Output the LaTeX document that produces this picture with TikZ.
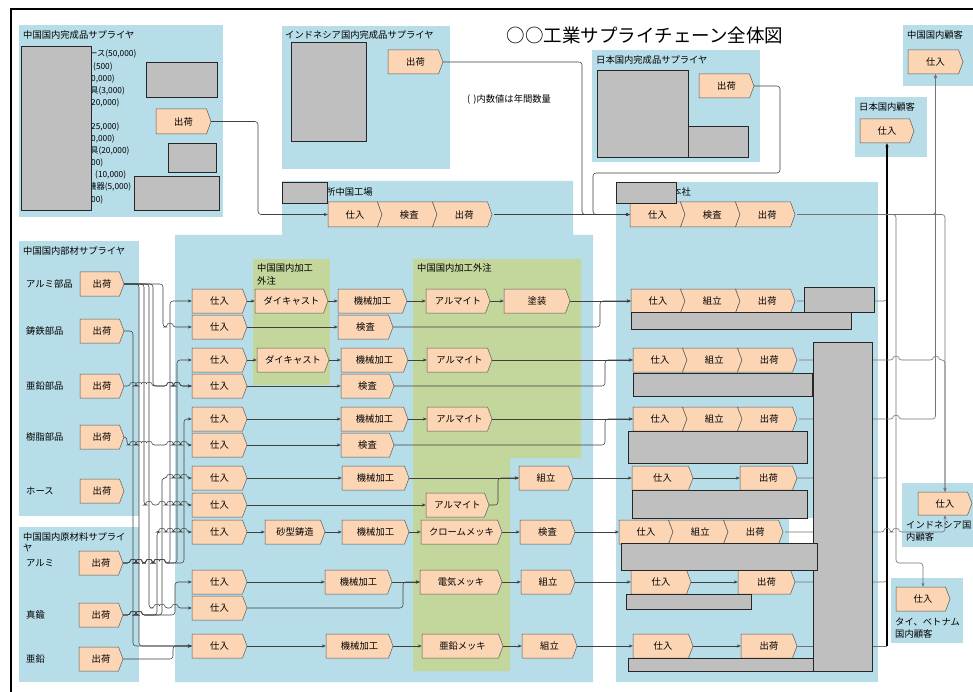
\documentclass[tikz,border=0pt]{standalone}
\usepackage{fontspec}
\setmainfont{Noto Sans CJK JP}
\usetikzlibrary{arrows.meta}
\definecolor{bluebg}{HTML}{B7DDE8}
\definecolor{greenbg}{HTML}{C3D69B}
\definecolor{peach}{HTML}{FCD5B4}
\definecolor{grayrect}{HTML}{BFBFBF}
\pgfdeclarelayer{bg}\pgfdeclarelayer{fg}\pgfsetlayers{bg,main,fg}
\tikzset{
 boxfill/.style={fill=peach,draw=black!65,line width=0.5pt},
 boxtext/.style={inner sep=0pt,font=\fontsize{9.3}{11}\selectfont},
 lbl/.style={anchor=west,inner sep=0pt,font=\fontsize{9.3}{11}\selectfont},
 smalllbl/.style={anchor=west,inner sep=0pt,font=\fontsize{8.3}{10}\selectfont},
 graybox/.style={fill=grayrect,draw=black!85,line width=0.6pt},
 conn/.style={draw=black!75,line width=0.55pt,rounded corners=3pt},
 lconn/.style={draw=black!55,line width=0.6pt,rounded corners=3pt},
 arr/.style={-{Stealth[length=4pt,width=3.2pt]}},
 trunk/.style={draw=black,line width=1.1pt},
}
\newcommand\pentbox[6]{%
 \path[boxfill] (#2,#3) -- ({#4-4.5},#3) -- (#4,{(#3+#5)/2}) -- ({#4-4.5},#5) -- (#2,#5) -- cycle;
 \node[boxtext,minimum width={#4pt-#2pt},minimum height={#5pt-#3pt}] (#1) at ({(#2+#4)/2},{(#3+#5)/2}) {#6};}
\newcommand\chevbox[6]{%
 \path[boxfill] (#2,#3) -- ({#4-4.5},#3) -- (#4,{(#3+#5)/2}) -- ({#4-4.5},#5) -- (#2,#5) -- ({#2+4.5},{(#3+#5)/2}) -- cycle;
 \node[boxtext,minimum width={#4pt-#2pt},minimum height={#5pt-#3pt}] (#1) at ({(#2+#4)/2+2},{(#3+#5)/2}) {#6};}
\begin{document}
\begin{tikzpicture}[x=1pt,y=-1pt]
\useasboundingbox (0,0) rectangle (973,692);
\begin{pgfonlayer}{bg}
\fill[white] (0,0) rectangle (973,692);
\fill[bluebg] (19,25) rectangle (223,217);
\fill[bluebg] (282,26) rectangle (450,169);
\fill[bluebg] (592,50) rectangle (760,162);
\fill[bluebg] (903,25) rectangle (973,86);
\fill[bluebg] (855,97) rectangle (927,157);
\fill[bluebg] (19,241) rectangle (139,516);
\fill[bluebg] (19,527) rectangle (139,682);
\fill[bluebg] (282,181) -- (573,181) -- (573,235) -- (593,235) -- (593,682) -- (175,682) -- (175,235) -- (282,235) -- cycle;
\fill[bluebg] (616,182) rectangle (878,682);
\fill[bluebg] (902,483) rectangle (973,547);
\fill[bluebg] (891,578) rectangle (963,643);
\fill[greenbg] (253,259) rectangle (330,385);
\fill[greenbg] (413,259) -- (581,259) -- (581,458) -- (510,458) -- (510,671) -- (413,671) -- cycle;
\fill[white] (789,518) rectangle (813,543);
\draw[line width=2pt] (11,692) -- (11,9) -- (973,9);
\end{pgfonlayer}

% titles and labels
\node[inner sep=0pt,font=\fontsize{18.5}{22}\selectfont] (title) at (645,35) {○○工業サプライチェーン全体図};
\node[lbl] (tCS) at (23,35) {中国国内完成品サプライヤ};
\node[lbl] (tIS) at (285,35) {インドネシア国内完成品サプライヤ};
\node[lbl] (tJS) at (596,60) {日本国内完成品サプライヤ};
\node[lbl] (tCC) at (907,35) {中国国内顧客};
\node[lbl] (tJC) at (859,107) {日本国内顧客};
\node[lbl] (tNote) at (467,99) {(\,\,)内数値は年間数量};
\node[lbl] (tFac) at (326,192) {所中国工場};
\node[lbl] (tHQ) at (672,192) {本社};
\node[lbl] (tPS) at (23,251) {中国国内部材サプライヤ};
\node[lbl] (tRS1) at (23,537) {中国国内原材料サプライ};
\node[lbl] (tRS2) at (23,548) {ヤ};
\node[lbl] (tG1a) at (257,268) {中国国内加工};
\node[lbl] (tG1b) at (257,281) {外注};
\node[lbl] (tG2) at (417,268) {中国国内加工外注};
\node[lbl] (tIC1) at (906,525) {インドネシア国};
\node[lbl] (tIC2) at (906,537) {内顧客};
\node[lbl] (tTC1) at (895,622) {タイ、ベトナム};
\node[lbl] (tTC2) at (895,634) {国内顧客};
\node[lbl] (lAP) at (26,284) {アルミ部品};
\node[lbl] (lCI) at (26,331) {鋳鉄部品};
\node[lbl] (lZP) at (26,386) {亜鉛部品};
\node[lbl] (lRP) at (26,437) {樹脂部品};
\node[lbl] (lHO) at (26,491) {ホース};
\node[lbl] (lAL) at (26,563) {アルミ};
\node[lbl] (lBR) at (26,615) {真鍮};
\node[lbl] (lZN) at (26,659) {亜鉛};
% partly hidden list
\node[smalllbl] (q1) at (89,54) {ース(50,000)};
\node[smalllbl] (q2) at (93,67) {(500)};
\node[smalllbl] (q3) at (91,79) {0,000)};
\node[smalllbl] (q4) at (90,91) {具(3,000)};
\node[smalllbl] (q5) at (91,103) {20,000)};
\node[smalllbl] (q6) at (91,127) {25,000)};
\node[smalllbl] (q7) at (91,139) {0,000)};
\node[smalllbl] (q8) at (90,151) {具(20,000)};
\node[smalllbl] (q9) at (91,163) {00)};
\node[smalllbl] (q10) at (95,175) {(10,000)};
\node[smalllbl] (q11) at (88,187) {機器(5,000)};
\node[smalllbl] (q12) at (91,200) {00)};

% supplier / customer boxes
\pentbox{cs0}{156}{109}{211}{134}{出荷}
\pentbox{is0}{388}{50}{443}{74}{出荷}
\pentbox{js0}{699}{74}{754}{98}{出荷}
\pentbox{cc}{908}{50}{963}{74}{仕入}
\pentbox{jc}{860}{119}{914}{143}{仕入}
\pentbox{ic}{918}{492}{972}{515}{仕入}
\pentbox{tc}{896}{587}{950}{611}{仕入}
\pentbox{apS}{80}{272}{124}{296}{出荷}
\pentbox{ciS}{80}{319}{124}{343}{出荷}
\pentbox{zpS}{80}{374}{124}{398}{出荷}
\pentbox{rpS}{80}{425}{124}{449}{出荷}
\pentbox{hoS}{80}{479}{124}{503}{出荷}
\pentbox{alS}{79}{551}{123}{575}{出荷}
\pentbox{brS}{79}{603}{123}{627}{出荷}
\pentbox{znS}{79}{647}{123}{671}{出荷}

% factory
\pentbox{f0r}{328}{202}{382}{227}{仕入}
\chevbox{f0k}{377.5}{202}{437}{227}{検査}
\chevbox{f0s}{432.5}{202}{492}{227}{出荷}
\pentbox{rA}{192}{289}{247}{313}{仕入}
\pentbox{dA}{255}{289}{328}{313}{ダイキャスト}
\pentbox{mA}{338}{289}{407}{313}{機械加工}
\pentbox{alA}{426}{289}{490}{313}{アルマイト}
\pentbox{pA}{504}{289}{570}{313}{塗装}
\pentbox{rA2}{192}{315}{247}{339}{仕入}
\pentbox{kA2}{338}{315}{393}{339}{検査}
\pentbox{rB}{192}{348}{247}{372}{仕入}
\pentbox{dB}{257}{348}{329}{372}{ダイキャスト}
\pentbox{mB}{341}{348}{408}{372}{機械加工}
\pentbox{alB}{427}{348}{492}{372}{アルマイト}
\pentbox{rB2}{192}{374}{247}{398}{仕入}
\pentbox{kB2}{341}{374}{394}{398}{検査}
\pentbox{rC}{192}{407}{247}{431}{仕入}
\pentbox{mC}{341}{407}{408}{431}{機械加工}
\pentbox{alC}{427}{407}{492}{431}{アルマイト}
\pentbox{rC2}{192}{433}{247}{457}{仕入}
\pentbox{kC2}{341}{433}{394}{457}{検査}
\pentbox{rD}{192}{466}{247}{490}{仕入}
\pentbox{mD}{342}{466}{409}{490}{機械加工}
\pentbox{aD}{519}{466}{573}{490}{組立}
\pentbox{rD2}{192}{493}{247}{517}{仕入}
\pentbox{alD2}{426}{493}{489}{517}{アルマイト}
\pentbox{rE}{192}{520}{247}{544}{仕入}
\pentbox{sE}{265}{520}{325}{544}{砂型鋳造}
\pentbox{mE}{342}{520}{409}{544}{機械加工}
\pentbox{cE}{421}{520}{502}{544}{クロームメッキ}
\pentbox{kE}{520}{520}{575}{544}{検査}
\pentbox{rF}{192}{570}{247}{594}{仕入}
\pentbox{mF}{325}{570}{392}{594}{機械加工}
\pentbox{eF}{420}{570}{502}{594}{電気メッキ}
\pentbox{aF}{521}{570}{575}{594}{組立}
\pentbox{rF2}{192}{596}{247}{620}{仕入}
\pentbox{rG}{192}{634}{247}{658}{仕入}
\pentbox{mG}{326}{634}{393}{658}{機械加工}
\pentbox{zG}{422}{634}{503}{658}{亜鉛メッキ}
\pentbox{aG}{522}{634}{577}{658}{組立}

% head office
\pentbox{h0r}{630}{202}{685}{227}{仕入}
\chevbox{h0k}{680.5}{202}{740}{227}{検査}
\chevbox{h0s}{735.5}{202}{795}{227}{出荷}
\pentbox{hA}{631}{289}{685}{313}{仕入}
\chevbox{asA}{680.5}{289}{740}{313}{組立}
\chevbox{shA}{735.5}{289}{795}{313}{出荷}
\pentbox{hB}{633}{348}{687}{372}{仕入}
\chevbox{asB}{682.5}{348}{742}{372}{組立}
\chevbox{shB}{737.5}{348}{797}{372}{出荷}
\pentbox{hC}{633}{407}{687}{431}{仕入}
\chevbox{asC}{682.5}{407}{742}{431}{組立}
\chevbox{shC}{737.5}{407}{797}{431}{出荷}
\pentbox{hD}{632}{466}{693}{490}{仕入}
\pentbox{shD}{740}{466}{797}{490}{出荷}
\pentbox{hE}{619}{520}{673}{544}{仕入}
\chevbox{asE}{668.5}{520}{728}{544}{組立}
\chevbox{shE}{723.5}{520}{783}{544}{出荷}
\pentbox{hF}{631}{570}{691}{594}{仕入}
\pentbox{shF}{738}{570}{795}{594}{出荷}
\pentbox{hG}{633}{634}{693}{658}{仕入}
\pentbox{shG}{741}{634}{797}{658}{出荷}

% ---- connectors: suppliers to factory
\draw[conn,arr] (cs0.east) -| (258,200) |- (f0r.west);
\draw[conn,arr] (f0s.east) -- (h0r.west);
\draw[conn,arr] (is0.east) -| (582,200) |- (h0r.west);
\draw[conn,arr] (js0.east) -| (780,173) -| (593,200) |- (h0r.west);

\draw[conn,arr] (apS.east) -| (163,327) foreach \h in {170}{ -- ({\h-2.5},327) .. controls ({\h-2.5},323.5) and ({\h+2.5},323.5) .. ({\h+2.5},327)} -- (rA2.west);
\draw[conn,arr] (apS.east) -| (153,386) foreach \h in {170,177}{ -- ({\h-2.5},386) .. controls ({\h-2.5},382.5) and ({\h+2.5},382.5) .. ({\h+2.5},386)} -- (rB2.west);
\draw[conn,arr] (apS.east) -| (144,505) foreach \h in {149,162,170,177,184}{ -- ({\h-2.5},505) .. controls ({\h-2.5},501.5) and ({\h+2.5},501.5) .. ({\h+2.5},505)} -- (rD2.west);
\draw[conn,arr] (apS.east) -| (149,608) foreach \h in {157,162,175}{ -- ({\h-2.5},608) .. controls ({\h-2.5},604.5) and ({\h+2.5},604.5) .. ({\h+2.5},608)} -- (rF2.west);
\draw[conn,arr] (apS.east) -| (139,646) -- (rG.west);
\draw[conn,arr] (ciS.east) -| (133,646) -- (rG.west);
\draw[conn,arr] (zpS.east) foreach \h in {133,139,144,149,170,177}{ -- ({\h-2.5},386) .. controls ({\h-2.5},382.5) and ({\h+2.5},382.5) .. ({\h+2.5},386)} -- (rB2.west);
\draw[conn,arr] (rpS.east) -| (127,445) foreach \h in {133,139,144,149,170,177,184}{ -- ({\h-2.5},445) .. controls ({\h-2.5},441.5) and ({\h+2.5},441.5) .. ({\h+2.5},445)} -- (rC2.west);
\draw[conn,arr] (alS.east) foreach \h in {133,139,149,157,162}{ -- ({\h-2.5},563) .. controls ({\h-2.5},559.5) and ({\h+2.5},559.5) .. ({\h+2.5},563)} -- (170,563) |- (rA.west);
\draw[conn,arr] (alS.east) foreach \h in {133,139,149,157,162}{ -- ({\h-2.5},563) .. controls ({\h-2.5},559.5) and ({\h+2.5},559.5) .. ({\h+2.5},563)} -- (177,563) |- (rB.west);
\draw[conn,arr] (alS.east) foreach \h in {133,139,149,157,162}{ -- ({\h-2.5},563) .. controls ({\h-2.5},559.5) and ({\h+2.5},559.5) .. ({\h+2.5},563)} -- (184,563) |- (rC.west);
\draw[conn,arr] (brS.east) foreach \h in {133,139}{ -- ({\h-2.5},615) .. controls ({\h-2.5},611.5) and ({\h+2.5},611.5) .. ({\h+2.5},615)} -- (157,615) -- (157,532) foreach \h in {162,170,177,184}{ -- ({\h-2.5},532) .. controls ({\h-2.5},528.5) and ({\h+2.5},528.5) .. ({\h+2.5},532)} -- (rE.west);
\draw[conn,arr] (brS.east) foreach \h in {133,139}{ -- ({\h-2.5},615) .. controls ({\h-2.5},611.5) and ({\h+2.5},611.5) .. ({\h+2.5},615)} -- (162,615) -- (162,478) foreach \h in {170,177,184}{ -- ({\h-2.5},478) .. controls ({\h-2.5},474.5) and ({\h+2.5},474.5) .. ({\h+2.5},478)} -- (rD.west);
\draw[conn,arr] (brS.east) foreach \h in {133,139}{ -- ({\h-2.5},615) .. controls ({\h-2.5},611.5) and ({\h+2.5},611.5) .. ({\h+2.5},615)} -- (175,615) |- (rF.west);
\draw[conn,arr] (znS.east) -- (173,659) |- (rG.west);

% ---- inside factory
\foreach \a/\b in {rA/dA,dA/mA,mA/alA,alA/pA,pA/hA,rA2/kA2,rB/dB,dB/mB,mB/alB,alB/hB,rB2/kB2,rC/mC,mC/alC,alC/hC,rC2/kC2,rD/mD,mD/aD,aD/hD,rD2/alD2,rE/sE,sE/mE,mE/cE,cE/kE,kE/hE,rF/mF,mF/eF,eF/aF,aF/hF,rG/mG,mG/zG,zG/aG,aG/hG,hD/shD,hF/shF,hG/shG}
  \draw[conn,arr] (\a.east) -- (\b.west);
\draw[conn,arr] (kA2.east) -| (600,310) |- (hA.west);
\draw[conn,arr] (kB2.east) -| (605,370) |- (hB.west);
\draw[conn,arr] (kC2.east) -| (605,430) |- (hC.west);
\draw[conn,arr] (alD2.east) -| (498,490) |- (aD.west);
\draw[conn,arr] (rF2.east) -| (403,595) |- (eF.west);

% ---- to customers
\coordinate (tk) at (887,646);
\draw[lconn] (shA.east) -| (887,292);
\draw[lconn] (shD.east) -| (887,470);
\draw[lconn] (shF.east) -| (887,575);
\draw[lconn] (shG.east) -- (tk);
\draw[trunk,arr] (tk) -- (jc.south);
\draw[lconn,arr] (h0s.east) -| (ic.north);
\draw[lconn,arr] (h0s.east) -| (896,563) -| (tc.north);
\draw[lconn,arr] (h0s.east) -| (cc.south);
\draw[lconn,arr] (shB.east) foreach \h in {896,936}{ -- ({\h-2.5},360) .. controls ({\h-2.5},356.5) and ({\h+2.5},356.5) .. ({\h+2.5},360)} -| (ic.north);
\draw[lconn,arr] (shC.east) foreach \h in {896}{ -- ({\h-2.5},419) .. controls ({\h-2.5},415.5) and ({\h+2.5},415.5) .. ({\h+2.5},419)} -| (cc.south);
\draw[lconn,arr] (shE.east) foreach \h in {887,896}{ -- ({\h-2.5},532) .. controls ({\h-2.5},528.5) and ({\h+2.5},528.5) .. ({\h+2.5},532)} -| (ic.south);

% ---- grey cover rectangles
\begin{pgfonlayer}{fg}
\path[graybox] (21,46) rectangle (91,210);
\path[graybox] (146,62) rectangle (217,97);
\path[graybox] (168,143) rectangle (216,172);
\path[graybox] (134,176) rectangle (219,210);
\path[graybox] (291,42) rectangle (366,141);
\path[graybox] (597,70) rectangle (688,157);
\path[graybox] (688,126) rectangle (748,157);
\path[graybox] (282,182) rectangle (327,203);
\path[graybox] (616,182) rectangle (676,203);
\path[graybox] (804,287) rectangle (874,312);
\path[graybox] (631,312) rectangle (851,329);
\path[graybox] (813,342) rectangle (872,671);
\path[graybox] (633,373) rectangle (812,396);
\path[graybox] (628,431) rectangle (807,463);
\path[graybox] (632,490) rectangle (807,518);
\path[graybox] (621,543) rectangle (817,570);
\path[graybox] (626,594) rectangle (751,609);
\path[graybox] (628,658) rectangle (813,671);
\end{pgfonlayer}
\end{tikzpicture}
\end{document}
